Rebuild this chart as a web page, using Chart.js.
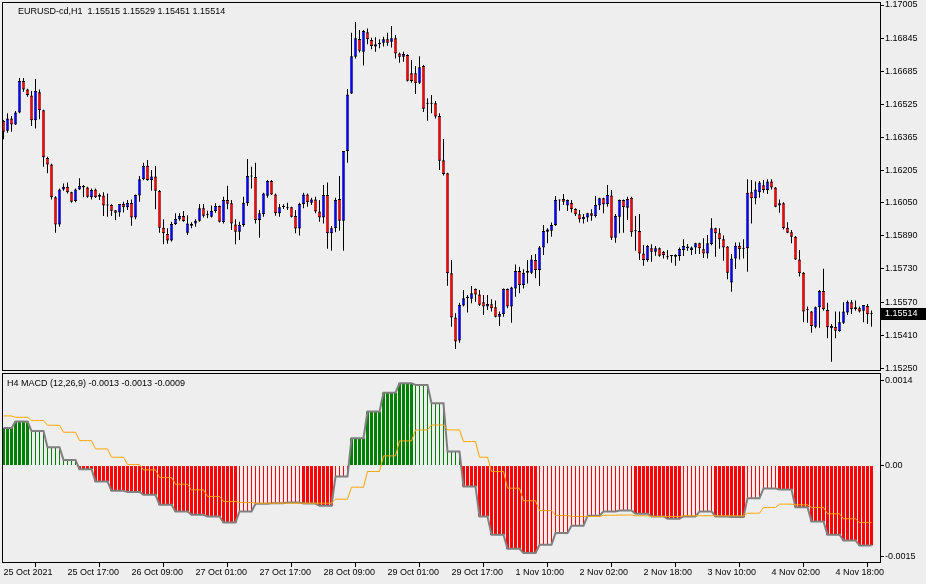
<!DOCTYPE html>
<html>
<head>
<meta charset="utf-8">
<script src="https://cdn.jsdelivr.net/npm/chart.js@4.4.0/dist/chart.umd.min.js"></script>
<style>
html, body { margin: 0; padding: 0; background: #eeeeee; }
#wrap { position: relative; width: 926px; height: 584px; overflow: hidden; }
#priceCanvas { position: absolute; left: 0; top: 0; }
#macdCanvas { position: absolute; left: 0; top: 372px; }
</style>
</head>
<body>
<div id="wrap">
  <canvas id="priceCanvas" width="926" height="380"></canvas>
  <canvas id="macdCanvas" width="926" height="212"></canvas>
</div>
<script>
// EURUSD-cd H1 candles, 25 Oct 2021 -> 4 Nov 2021
const opens = [
  1.16445,1.16398,1.16457,1.16428,1.16486,1.16638,1.16597,1.16568,1.16448,1.16583,
  1.16496,1.16266,1.16235,1.16076,1.15945,1.16114,1.16127,1.16100,1.16058,1.16114,
  1.16131,1.16124,1.16076,1.16114,1.16079,1.16085,1.16036,1.16039,1.16013,1.16003,
  1.16044,1.16028,1.16048,1.15979,1.16085,1.16163,1.16229,1.16160,1.16176,1.16108,
  1.15929,1.15899,1.15867,1.15947,1.15970,1.15986,1.15905,1.15939,1.15950,1.15963,
  1.16023,1.15989,1.15982,1.16010,1.16034,1.15957,1.16063,1.16047,1.15945,1.15910,
  1.15942,1.16047,1.16179,1.16174,1.15966,1.15994,1.16084,1.16155,1.16090,1.15999,
  1.16031,1.16024,1.16028,1.15986,1.15925,1.16044,1.16090,1.16050,1.16066,1.16007,
  1.15978,1.16087,1.15902,1.15926,1.16068,1.15963,1.16300,1.16578,1.16755,1.16841,
  1.16779,1.16873,1.16836,1.16804,1.16815,1.16823,1.16839,1.16828,1.16844,1.16771,
  1.16755,1.16763,1.16675,1.16675,1.16630,1.16710,1.16530,1.16530,1.16530,1.16469,
  1.16255,1.16192,1.15709,1.15496,1.15384,1.15553,1.15588,1.15586,1.15633,1.15607,
  1.15569,1.15548,1.15559,1.15545,1.15499,1.15512,1.15633,1.15548,1.15636,1.15720,
  1.15652,1.15712,1.15712,1.15773,1.15725,1.15834,1.15910,1.15915,1.15942,1.16063,
  1.16068,1.16036,1.16050,1.16020,1.15994,1.15970,1.15979,1.15999,1.15986,1.16036,
  1.16071,1.16042,1.16085,1.15881,1.15982,1.16063,1.16026,1.16074,1.15913,1.15913,
  1.15805,1.15773,1.15830,1.15813,1.15830,1.15813,1.15788,1.15792,1.15797,1.15792,
  1.15822,1.15830,1.15822,1.15833,1.15854,1.15825,1.15805,1.15850,1.15926,1.15902,
  1.15873,1.15838,1.15664,1.15781,1.15842,1.15830,1.15830,1.16100,1.16071,1.16100,
  1.16134,1.16111,1.16152,1.16123,1.16036,1.16047,1.15929,1.15907,1.15886,1.15776,
  1.15712,1.15532,1.15524,1.15451,1.15545,1.15623,1.15532,1.15443,1.15451,1.15430,
  1.15470,1.15520,1.15569,1.15536,1.15540,1.15528,1.15551,1.15515
];
const highs = [
  1.16449,1.16482,1.16469,1.16493,1.16652,1.16652,1.16601,1.16589,1.16647,1.16597,
  1.16499,1.16272,1.16238,1.16081,1.16119,1.16143,1.16147,1.16103,1.16118,1.16168,
  1.16135,1.16127,1.16118,1.16119,1.16095,1.16100,1.16095,1.16042,1.16015,1.16044,
  1.16055,1.16063,1.16066,1.16090,1.16179,1.16243,1.16256,1.16208,1.16227,1.16111,
  1.15970,1.15926,1.15958,1.15999,1.15999,1.16010,1.15989,1.15955,1.15970,1.16044,
  1.16044,1.16011,1.16037,1.16047,1.16037,1.16079,1.16132,1.16063,1.15970,1.15958,
  1.16079,1.16261,1.16224,1.16243,1.16015,1.16098,1.16160,1.16160,1.16094,1.16044,
  1.16042,1.16050,1.16031,1.16015,1.16050,1.16098,1.16095,1.16074,1.16079,1.16063,
  1.16135,1.16147,1.15937,1.16074,1.16179,1.16300,1.16599,1.16871,1.16923,1.16884,
  1.16884,1.16892,1.16847,1.16849,1.16839,1.16852,1.16871,1.16903,1.16860,1.16775,
  1.16779,1.16767,1.16739,1.16710,1.16758,1.16715,1.16554,1.16570,1.16541,1.16482,
  1.16358,1.16195,1.15773,1.15516,1.15567,1.15628,1.15604,1.15648,1.15636,1.15628,
  1.15604,1.15604,1.15583,1.15577,1.15524,1.15636,1.15636,1.15644,1.15752,1.15741,
  1.15728,1.15773,1.15797,1.15802,1.15841,1.15942,1.15926,1.15954,1.16082,1.16066,
  1.16092,1.16066,1.16063,1.16023,1.16015,1.15995,1.16002,1.16018,1.16082,1.16074,
  1.16074,1.16135,1.16111,1.15995,1.16066,1.16066,1.16079,1.16079,1.15986,1.15995,
  1.15846,1.15846,1.15849,1.15841,1.15833,1.15817,1.15822,1.15797,1.15801,1.15833,
  1.15873,1.15850,1.15838,1.15857,1.15857,1.15878,1.15894,1.15975,1.15929,1.15926,
  1.15892,1.15841,1.15802,1.15858,1.15858,1.15873,1.16163,1.16160,1.16153,1.16155,
  1.16160,1.16163,1.16163,1.16126,1.16066,1.16052,1.15955,1.15918,1.15889,1.15822,
  1.15715,1.15548,1.15527,1.15548,1.15628,1.15731,1.15567,1.15464,1.15524,1.15524,
  1.15569,1.15577,1.15580,1.15577,1.15548,1.15556,1.15561,1.15529
];
const lows = [
  1.16356,1.16388,1.16393,1.16425,1.16482,1.16586,1.16562,1.16420,1.16409,1.16453,
  1.16224,1.16192,1.16066,1.15905,1.15934,1.16108,1.16095,1.16050,1.16052,1.16111,
  1.16076,1.16074,1.16066,1.16073,1.16063,1.15986,1.15982,1.15986,1.15966,1.15982,
  1.16003,1.16015,1.15939,1.15970,1.16055,1.16158,1.16156,1.16108,1.16018,1.15905,
  1.15849,1.15852,1.15862,1.15942,1.15963,1.15958,1.15894,1.15926,1.15934,1.15958,
  1.15979,1.15975,1.15979,1.16002,1.15954,1.15950,1.16018,1.15918,1.15849,1.15870,
  1.15934,1.16034,1.16119,1.15950,1.15881,1.15982,1.16074,1.16087,1.15987,1.15982,
  1.16020,1.16015,1.15979,1.15902,1.15891,1.16023,1.16031,1.16039,1.15999,1.15958,
  1.15950,1.15828,1.15818,1.15907,1.15915,1.15818,1.16243,1.16575,1.16746,1.16776,
  1.16713,1.16815,1.16791,1.16779,1.16796,1.16804,1.16808,1.16800,1.16747,1.16726,
  1.16731,1.16635,1.16630,1.16575,1.16623,1.16488,1.16446,1.16482,1.16457,1.16208,
  1.16181,1.15649,1.15451,1.15343,1.15374,1.15548,1.15519,1.15564,1.15572,1.15551,
  1.15508,1.15532,1.15524,1.15496,1.15454,1.15499,1.15540,1.15470,1.15596,1.15612,
  1.15636,1.15660,1.15706,1.15685,1.15648,1.15797,1.15854,1.15886,1.15937,1.16011,
  1.16039,1.16010,1.16003,1.15986,1.15954,1.15950,1.15958,1.15963,1.15979,1.16015,
  1.15999,1.16031,1.15870,1.15857,1.15902,1.15905,1.15966,1.15886,1.15818,1.15773,
  1.15746,1.15765,1.15765,1.15794,1.15789,1.15781,1.15776,1.15760,1.15746,1.15770,
  1.15792,1.15818,1.15797,1.15802,1.15802,1.15783,1.15781,1.15844,1.15789,1.15828,
  1.15770,1.15680,1.15620,1.15730,1.15776,1.15781,1.15717,1.15950,1.16042,1.16074,
  1.16098,1.16092,1.16114,1.16028,1.16002,1.15921,1.15902,1.15854,1.15773,1.15693,
  1.15473,1.15470,1.15422,1.15443,1.15446,1.15528,1.15395,1.15282,1.15395,1.15427,
  1.15464,1.15508,1.15512,1.15528,1.15520,1.15473,1.15464,1.15451
];
const closes = [
  1.16393,1.16457,1.16428,1.16486,1.16638,1.16597,1.16570,1.16448,1.16589,1.16496,
  1.16269,1.16235,1.16076,1.15945,1.16114,1.16127,1.16100,1.16055,1.16114,1.16131,
  1.16124,1.16079,1.16111,1.16076,1.16087,1.16036,1.16040,1.16011,1.16002,1.16044,
  1.16028,1.16048,1.15979,1.16087,1.16163,1.16227,1.16160,1.16176,1.16108,1.15929,
  1.15902,1.15867,1.15947,1.15971,1.15986,1.15962,1.15950,1.15947,1.15963,1.16023,
  1.15987,1.15991,1.16011,1.16034,1.15958,1.16063,1.16045,1.15950,1.15910,1.15942,
  1.16050,1.16179,1.16176,1.15966,1.15999,1.16095,1.16155,1.16090,1.15999,1.16028,
  1.16029,1.16023,1.15982,1.15925,1.16044,1.16090,1.16052,1.16066,1.16007,1.15978,
  1.16087,1.15902,1.15926,1.16063,1.15963,1.16300,1.16573,1.16758,1.16844,1.16784,
  1.16879,1.16839,1.16807,1.16816,1.16823,1.16839,1.16823,1.16844,1.16771,1.16755,
  1.16768,1.16639,1.16638,1.16627,1.16704,1.16504,1.16528,1.16528,1.16466,1.16253,
  1.16189,1.15709,1.15496,1.15379,1.15556,1.15588,1.15596,1.15612,1.15607,1.15557,
  1.15548,1.15561,1.15540,1.15499,1.15512,1.15633,1.15548,1.15640,1.15720,1.15652,
  1.15712,1.15720,1.15776,1.15725,1.15834,1.15913,1.15921,1.15942,1.16063,1.16061,
  1.16055,1.16063,1.16018,1.15994,1.15970,1.15982,1.15999,1.15987,1.16039,1.16071,
  1.16042,1.16087,1.15881,1.15986,1.16063,1.16028,1.16068,1.15907,1.15912,1.15805,
  1.15773,1.15841,1.15813,1.15830,1.15794,1.15797,1.15786,1.15794,1.15789,1.15826,
  1.15841,1.15838,1.15834,1.15854,1.15830,1.15805,1.15854,1.15926,1.15902,1.15873,
  1.15834,1.15712,1.15781,1.15842,1.15825,1.15828,1.16098,1.16071,1.16114,1.16148,
  1.16111,1.16153,1.16123,1.16031,1.16047,1.15926,1.15905,1.15886,1.15776,1.15709,
  1.15524,1.15530,1.15454,1.15545,1.15623,1.15535,1.15448,1.15454,1.15432,1.15472,
  1.15524,1.15572,1.15535,1.15545,1.15524,1.15556,1.15511,1.15514
];

// price axis ticks (as printed by the terminal)
const priceTicks = [1.17005, 1.16845, 1.16685, 1.16525, 1.16365, 1.16205, 1.16050, 1.15890, 1.15730, 1.15570, 1.15410, 1.15250];
const macdTicks = [0.0014, 0, -0.0015];

// time axis labels, one every 16 H1 bars
const timeLabels = ["25 Oct 2021", "25 Oct 17:00", "26 Oct 09:00", "27 Oct 01:00", "27 Oct 17:00", "28 Oct 09:00", "29 Oct 01:00",
  "29 Oct 17:00", "1 Nov 10:00", "2 Nov 02:00", "2 Nov 18:00", "3 Nov 10:00", "4 Nov 02:00", "4 Nov 18:00"];
const labelEvery = 16;

// H4 MACD(12,26,9): main and signal per H4 bar
const macdH4 = [
  0.00062, 0.000725, 0.000572, 0.000302, 0.000094, -0.00006, -0.000263, -0.000417, -0.000434, -0.000483,
  -0.000647, -0.000757, -0.000812, -0.000839, -0.000938, -0.000757, -0.000631, -0.00062, -0.000609, -0.000626,
  -0.000664, -0.000181, 0.000451, 0.00089, 0.001203, 0.001357, 0.001329, 0.001027, 0.000231, -0.000345,
  -0.000839, -0.001141, -0.001372, -0.001443, -0.001306, -0.001114, -0.000993, -0.000828, -0.000757, -0.000741,
  -0.000795, -0.000839, -0.000878, -0.000839, -0.000757, -0.000839, -0.00085, -0.000537, -0.000378, -0.000395,
  -0.000686, -0.000922, -0.001141, -0.001235, -0.001317
];
const signalH4 = [
  0.000819, 0.000797, 0.000742, 0.000665, 0.00055, 0.000412, 0.000275, 0.000138, 0.000017, -0.000071,
  -0.000197, -0.000307, -0.0004, -0.00051, -0.000592, -0.000609, -0.00062, -0.00062, -0.00062, -0.00062,
  -0.00062, -0.000554, -0.000356, -0.000098, 0.00016, 0.000407, 0.000588, 0.00067, 0.000588, 0.000396,
  0.000138, -0.000098, -0.000373, -0.000581, -0.000741, -0.000823, -0.00084, -0.00084, -0.00082, -0.000815,
  -0.000828, -0.00084, -0.00084, -0.000828, -0.000828, -0.000828, -0.000828, -0.000785, -0.000691, -0.000636,
  -0.000647, -0.000691, -0.000795, -0.000878, -0.00094
];
// H1 bars covered by each H4 bar (week opens at 01:00)
const h4Size = [3].concat(Array(29).fill(4), [3], Array(24).fill(4));

const axisFont = { family: 'Liberation Sans', size: 9 };
const xMin = -0.375, xMax = 219.375;

const idx = closes.map((_, i) => i);
const last = closes.length - 1;

// expand H4 values onto the H1 bars
const barGroup = [];
h4Size.forEach((sz, g) => { for (let k = 0; k < sz; k++) barGroup.push(g); });
const growing = macdH4.map((v, g) => {
  const prev = g ? macdH4[g - 1] : 0;
  return v >= 0 ? v > prev : v < prev;
});
const histThick = idx.filter(i => growing[barGroup[i]]).map(i => ({ x: i, y: macdH4[barGroup[i]] }));
const histThin = idx.filter(i => !growing[barGroup[i]]).map(i => ({ x: i, y: macdH4[barGroup[i]] }));

const frame = {
  id: 'frame',
  afterDraw(chart) {
    const { ctx, chartArea: a } = chart;
    ctx.save();
    ctx.strokeStyle = '#000';
    ctx.lineWidth = 1;
    ctx.strokeRect(a.left + 0.5, a.top + 0.5, a.right - a.left - 1, a.bottom - a.top - 1);
    ctx.restore();
  }
};

const priceText = {
  id: 'priceText',
  afterDraw(chart) {
    const ctx = chart.ctx;
    ctx.save();
    ctx.font = '9px "Liberation Sans"';
    ctx.fillStyle = '#000';
    ctx.textBaseline = 'alphabetic';
    const f = v => v.toFixed(5);
    ctx.fillText('EURUSD-cd,H1  ' + [opens[last], highs[last], lows[last], closes[last]].map(f).join(' '), 18, 14);
    // current price marker
    const y = Math.round(chart.scales.y.getPixelForValue(closes[last]));
    ctx.fillRect(881, y - 6, 45, 12);
    ctx.fillStyle = '#fff';
    ctx.textBaseline = 'middle';
    ctx.fillText(f(closes[last]), 885, y);
    ctx.restore();
  }
};

const macdText = {
  id: 'macdText',
  afterDraw(chart) {
    const ctx = chart.ctx;
    ctx.save();
    ctx.font = '9px "Liberation Sans"';
    ctx.fillStyle = '#000';
    const m = macdH4[macdH4.length - 1], s = signalH4[signalH4.length - 1];
    ctx.fillText('H4 MACD (12,26,9) ' + [m, m, s].map(v => v.toFixed(4)).join(' '), 7, 14);
    ctx.restore();
  }
};

const rightAxis = (min, max, ticks, fmt) => ({
  position: 'right', min, max, beginAtZero: false,
  afterBuildTicks: s => { s.ticks = ticks.map(v => ({ value: v })); },
  afterFit: s => { s.width = 45; s.paddingTop = 0; s.paddingBottom = 0; },
  ticks: { callback: fmt, color: '#000', font: axisFont, padding: 1 },
  grid: { drawOnChartArea: false, drawTicks: true, tickLength: 3, tickColor: '#000' },
  border: { display: false }
});

new Chart(document.getElementById('priceCanvas'), {
  type: 'bar',
  data: {
    datasets: [
      {
        data: idx.map(i => ({ x: i, y: [lows[i], highs[i]] })),
        backgroundColor: '#000', barThickness: 1, inflateAmount: 0, grouped: false, order: 2
      },
      {
        data: idx.map(i => ({ x: i, y: [opens[i], closes[i]] })),
        backgroundColor: c => closes[c.raw.x] >= opens[c.raw.x] ? '#0000ff' : '#ff0000',
        borderColor: '#000', borderWidth: { top: 1, bottom: 1, left: 0.5, right: 0.5 },
        borderSkipped: false, inflateAmount: 0,
        barThickness: 3, minBarLength: 1, grouped: false, order: 1
      }
    ]
  },
  options: {
    responsive: false, animation: false, events: [],
    layout: { padding: { left: 2, top: 2, right: 0, bottom: 9 } },
    plugins: { legend: { display: false }, tooltip: { enabled: false } },
    scales: {
      x: { type: 'linear', min: xMin, max: xMax, offset: false, display: false },
      y: rightAxis(1.15237, 1.170195, priceTicks, v => v.toFixed(5))
    }
  },
  plugins: [frame, priceText]
});

new Chart(document.getElementById('macdCanvas'), {
  type: 'bar',
  data: {
    datasets: [
      {
        data: histThick, barThickness: 3, inflateAmount: 0, grouped: false, order: 4,
        backgroundColor: c => c.raw.y > 0 ? '#008000' : '#ff0000'
      },
      {
        data: histThin, barThickness: 1, inflateAmount: 0, grouped: false, order: 3,
        backgroundColor: c => c.raw.y > 0 ? '#008000' : '#ff0000'
      },
      {
        type: 'line', data: idx.map(i => ({ x: i, y: macdH4[barGroup[i]] })),
        borderColor: '#808080', borderWidth: 2, pointRadius: 0, tension: 0, order: 2
      },
      {
        type: 'line', data: idx.map(i => ({ x: i, y: signalH4[barGroup[i]] })),
        borderColor: '#ffa500', borderWidth: 1, pointRadius: 0, tension: 0, order: 1
      }
    ]
  },
  options: {
    responsive: false, animation: false, events: [],
    layout: { padding: { left: 2, top: 1, right: 0, bottom: 0 } },
    plugins: { legend: { display: false }, tooltip: { enabled: false } },
    scales: {
      x: {
        type: 'linear', min: xMin, max: xMax, offset: false,
        afterBuildTicks: s => { s.ticks = timeLabels.map((_, k) => ({ value: k * labelEvery })); },
        afterFit: s => { s.height = 21; s.paddingLeft = 0; s.paddingRight = 0; },
        ticks: { callback: v => timeLabels[v / labelEvery], align: 'start', maxRotation: 0, autoSkip: false, color: '#000', font: axisFont, padding: 0 },
        grid: { drawOnChartArea: false, drawTicks: true, tickLength: 4, tickColor: '#000' },
        border: { display: false }
      },
      y: rightAxis(-0.001607, 0.001527, macdTicks, v => v === 0 ? '0.00' : v.toFixed(4))
    }
  },
  plugins: [frame, macdText]
});
</script>
</body>
</html>
